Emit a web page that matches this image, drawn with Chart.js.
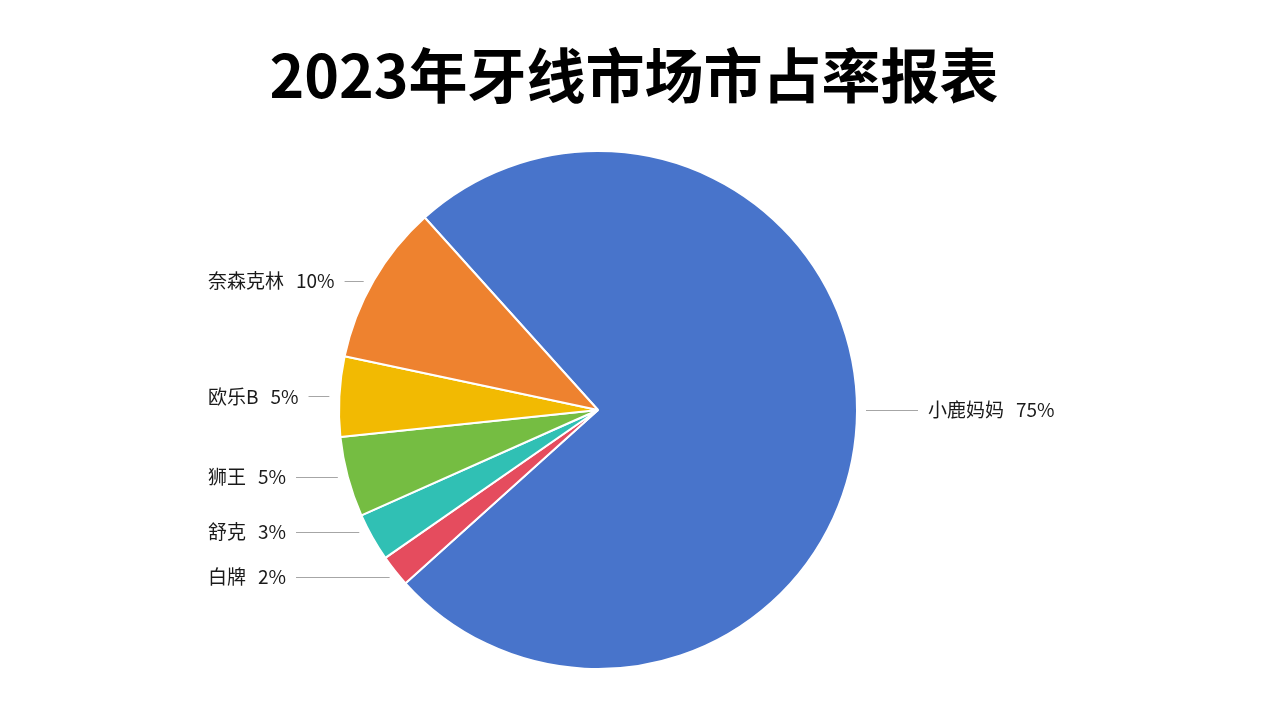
<!DOCTYPE html>
<html>
<head>
<meta charset="utf-8">
<script src="https://cdn.jsdelivr.net/npm/chart.js@4.4.1/dist/chart.umd.min.js"></script>
<style>
  html, body { margin: 0; padding: 0; background: #fff; }
  #wrap { width: 1268px; height: 714px; position: relative; }
</style>
</head>
<body>
<div id="wrap"><canvas id="chart"></canvas></div>
<script>
// 2023 dental floss market share
const chartTitle = '2023年牙线市场市占率报表';
const brands = ['小鹿妈妈', '白牌', '舒克', '狮王', '欧乐B', '奈森克林'];
const shares = [75, 2, 3, 5, 5, 10];
const sliceColors = ['#4874CB', '#E54C5E', '#30C0B4', '#75BD42', '#F2BA02', '#EE822F'];

const FONT = '"Noto Sans CJK SC", "Noto Sans", sans-serif';

// title centred on the whole page (the pie itself sits a bit left of centre)
const pageTitle = {
    id: 'pageTitle',
    afterDraw(chart) {
        const ctx = chart.ctx;
        ctx.save();
        ctx.font = 'bold 59px ' + FONT;
        ctx.fillStyle = '#000';
        ctx.textAlign = 'center';
        ctx.textBaseline = 'middle';
        ctx.fillText(chartTitle, chart.width / 2, 76);
        ctx.restore();
    }
};

// draws the outside labels with horizontal leader lines
const outsideLabels = {
    id: 'outsideLabels',
    afterDatasetsDraw(chart) {
        const ctx = chart.ctx;
        const meta = chart.getDatasetMeta(0);
        const items = [];
        meta.data.forEach((arc, i) => {
            const p = arc.getProps(['x', 'y', 'startAngle', 'endAngle', 'outerRadius'], true);
            const mid = (p.startAngle + p.endAngle) / 2;
            const right = Math.cos(mid) >= 0;
            let y = p.y + Math.sin(mid) * p.outerRadius;
            if (shares[i] > 50) y = p.y;
            items.push({ i, y, right, cx: p.x, cy: p.y, r: p.outerRadius });
        });

        // push apart labels on the left that get too close
        const left = items.filter(it => !it.right).sort((a, b) => a.y - b.y);
        const gap = 45;
        for (let k = 1; k < left.length; k++) {
            const d = left[k].y - left[k - 1].y;
            if (d < gap) {
                const shift = (gap - d) / 2;
                left[k - 1].y -= shift;
                left[k].y += shift;
            }
        }

        ctx.save();
        ctx.font = '19px ' + FONT;
        ctx.textBaseline = 'middle';
        items.forEach(it => {
            const name = brands[it.i];
            const val = shares[it.i] + '%';
            const dy = Math.min(Math.abs(it.y - it.cy), it.r);
            const dx = Math.sqrt(it.r * it.r - dy * dy);
            const nameW = ctx.measureText(name).width;
            const valW = ctx.measureText(val).width;
            const textW = nameW + 12 + valW;
            let x0, x1, tx;
            if (it.right) {
                x0 = it.cx + dx + 9;
                x1 = x0 + 52;
                tx = x1 + 10;
            } else {
                tx = 208;
                x0 = tx + textW + 10;
                x1 = it.cx - dx - 10;
            }
            ctx.strokeStyle = '#a6a6a6';
            ctx.lineWidth = 1;
            ctx.beginPath();
            ctx.moveTo(x0, Math.round(it.y) + 0.5);
            ctx.lineTo(x1, Math.round(it.y) + 0.5);
            ctx.stroke();
            ctx.fillStyle = '#1a1a1a';
            ctx.textAlign = 'left';
            ctx.fillText(name, tx, it.y);
            ctx.fillText(val, tx + nameW + 12, it.y);
        });
        ctx.restore();
    }
};

new Chart(document.getElementById('chart'), {
    type: 'pie',
    data: {
        labels: brands,
        datasets: [{
            data: shares,
            backgroundColor: sliceColors,
            borderColor: '#ffffff',
            borderWidth: 2
        }]
    },
    options: {
        responsive: true,
        maintainAspectRatio: false,
        animation: false,
        rotation: -42,
        layout: { padding: { top: 150, bottom: 44, left: 0, right: 72 } },
        plugins: {
            legend: { display: false },
            tooltip: { enabled: false },
            title: { display: false }
        }
    },
    plugins: [outsideLabels, pageTitle]
});
</script>
</body>
</html>
